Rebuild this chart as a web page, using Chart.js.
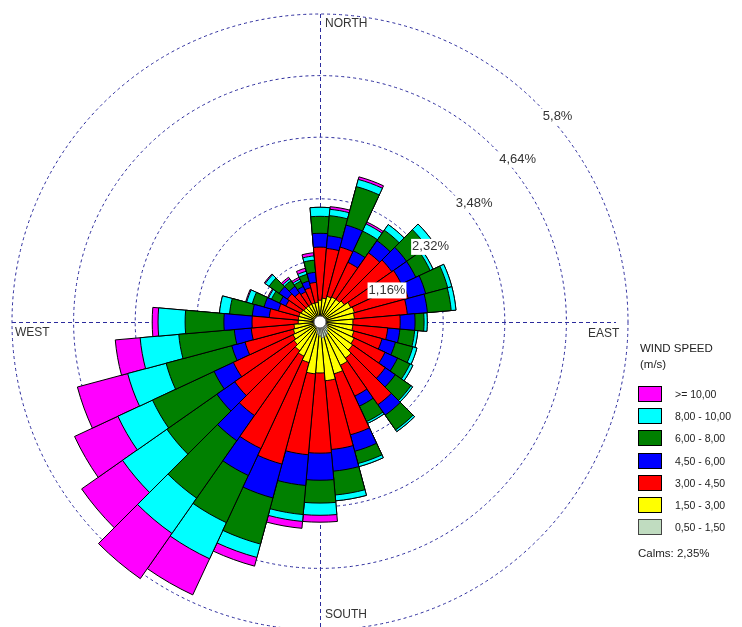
<!DOCTYPE html>
<html>
<head>
<meta charset="utf-8">
<title>Wind rose</title>
<script src="https://cdn.jsdelivr.net/npm/chart.js@4.4.1/dist/chart.umd.min.js"></script>
<style>
html,body{margin:0;padding:0;background:#fff;overflow:hidden;}
#wrap{position:absolute;left:0;top:0;width:742px;height:632px;}
#legend{position:absolute;left:0;top:0;font-family:"Liberation Sans",Arial,sans-serif;color:#222;}
#legend div{position:absolute;white-space:nowrap;}
.ttl{left:640px;font-size:11.5px;line-height:14px;}
.box{left:638px;width:22px;height:14px;border:1px solid #000;}
.lab{left:675px;font-size:10.5px;line-height:12px;}
</style>
</head>
<body>
<div id="wrap"><canvas id="rose"></canvas></div>
<div id="legend"></div>
<script>
// directions (deg, clockwise from north), 10 degree sectors
const directions=[0,10,20,30,40,50,60,70,80,90,100,110,120,130,140,150,160,170,180,190,200,210,220,230,240,250,260,270,280,290,300,310,320,330,340,350];
const speedClasses=['0,50 - 1,50','1,50 - 3,00','3,00 - 4,50','4,50 - 6,00','6,00 - 8,00','8,00 - 10,00','>= 10,00'];
const classColors=['#c0dcc0','#ffff00','#ff0000','#0000ff','#008000','#00ffff','#ff00ff'];

// frequency (%) of each speed class per direction
const f050=[0.09,0.09,0.09,0.09,0.09,0.09,0.09,0.09,0.09,0.09,0.09,0.11,0.15,0.17,0.21,0.26,0.28,0.30,0.26,0.23,0.17,0.13,0.11,0.09,0.09,0.09,0.09,0.09,0.09,0.09,0.09,0.09,0.09,0.09,0.09,0.09];
const f150=[0.32,0.36,0.41,0.43,0.43,0.47,0.55,0.58,0.56,0.53,0.53,0.55,0.56,0.58,0.62,0.64,0.73,0.81,0.70,0.75,0.62,0.58,0.55,0.51,0.47,0.43,0.40,0.32,0.32,0.32,0.30,0.28,0.28,0.28,0.28,0.28];
const f300=[1.00,0.94,0.96,0.72,1.07,1.09,1.05,1.05,1.00,0.89,0.66,0.55,0.64,0.75,1.07,0.64,1.19,1.30,1.51,1.53,1.98,1.92,1.49,1.36,1.24,0.94,0.81,0.87,0.55,0.40,0.32,0.38,0.30,0.26,0.30,0.38];
const f450=[0.26,0.24,0.43,0.24,0.28,0.34,0.30,0.34,0.38,0.28,0.23,0.26,0.26,0.23,0.24,0.21,0.32,0.41,0.51,0.58,0.66,0.56,0.58,0.41,0.40,0.26,0.32,0.53,0.32,0.28,0.13,0.19,0.15,0.11,0.13,0.19];
const f600=[0.32,0.38,0.75,0.41,0.24,0.47,0.30,0.43,0.45,0.17,0.28,0.34,0.26,0.36,0.34,0.32,0.24,0.45,0.43,0.55,0.90,0.98,1.32,1.15,1.28,1.28,1.05,0.73,0.43,0.23,0.17,0.23,0.13,0.11,0.13,0.23];
const f800=[0.17,0.12,0.14,0.15,0.13,0.15,0.06,0.08,0.09,0.06,0.06,0.08,0.06,0.04,0.04,0.04,0.06,0.11,0.23,0.13,0.26,0.75,0.81,1.02,0.72,0.75,0.73,0.51,0.19,0.11,0.06,0.09,0.04,0.04,0.06,0.08];
const f1000=[0,0.05,0.05,0.04,0,0,0,0,0,0,0,0,0,0,0,0,0,0,0.13,0.13,0.17,0.75,1.04,0.94,0.90,0.98,0.47,0.11,0,0.02,0.02,0.02,0.04,0.04,0.06,0.06];

const ringValues=[0,1.16,2.32,3.48,4.64,5.8];
const ringLabels=['','1,16%','2,32%','3,48%','4,64%','5,8%'];
const calms='2,35%';

// stack the classes outwards: dataset k ends at sum of classes 0..k
const freq=[f050,f150,f300,f450,f600,f800,f1000];
let run=directions.map(()=>0);
const stacked=freq.map(arr=>{run=run.map((v,i)=>v+arr[i]);return run.slice();});

const dashBlue='#2b2b9c';

const rosePlugin={
id:'rose',
beforeDatasetsDraw(chart){
let s=chart.scales.r,ctx=chart.ctx,R=s.drawingArea;
ctx.save();
ctx.strokeStyle=dashBlue;ctx.lineWidth=1;ctx.setLineDash([4,3]);
ctx.beginPath();
ctx.moveTo(s.xCenter+0.5,s.yCenter-R);ctx.lineTo(s.xCenter+0.5,chart.height);
ctx.moveTo(s.xCenter-R,s.yCenter+0.5);ctx.lineTo(s.xCenter+R-12,s.yCenter+0.5);
ctx.stroke();
ctx.restore();
},
afterDatasetsDraw(chart){
let s=chart.scales.r,ctx=chart.ctx,R=s.drawingArea,cx=s.xCenter,cy=s.yCenter;
ctx.save();
// calms circle
ctx.beginPath();ctx.arc(cx,cy,6,0,Math.PI*2);
ctx.fillStyle='#fff';ctx.fill();
ctx.strokeStyle='#666';ctx.lineWidth=1;ctx.stroke();
// ring labels along 45 deg
ctx.font='13px "Liberation Sans", Arial, sans-serif';
ctx.textBaseline='middle';ctx.textAlign='left';
ringValues.forEach((v,i)=>{
if(!ringLabels[i])return;
let r=s.getDistanceFromCenterForValue(v);
let x=cx+r*Math.SQRT1_2+5,y=cy-r*Math.SQRT1_2+12;
let w=ctx.measureText(ringLabels[i]).width;
ctx.fillStyle='#fff';ctx.fillRect(x-1,y-8,w+2,16);
ctx.fillStyle='#333';ctx.fillText(ringLabels[i],x,y);
});
// compass
ctx.font='12px "Liberation Sans", Arial, sans-serif';
ctx.fillStyle='#333';
ctx.fillText('NORTH',cx+5,cy-R+10);
ctx.fillText('SOUTH',cx+5,cy+293);
ctx.fillText('WEST',cx-R+3,cy+11);
ctx.fillText('EAST',cx+R-40,cy+12);
ctx.restore();
}
};

new Chart(document.getElementById('rose'),{
type:'polarArea',
data:{
labels:directions.map(d=>d+'°'),
datasets:stacked.map((d,k)=>({
label:speedClasses[k],
data:d,
backgroundColor:classColors[k],
borderColor:k==0?'#555':'#000',
borderWidth:1,
clip:false
}))
},
options:{
responsive:true,maintainAspectRatio:false,animation:false,events:[],
layout:{padding:{left:12,top:14,right:114,bottom:2}},
plugins:{legend:{display:false},tooltip:{enabled:false}},
scales:{r:{
min:0,max:5.8,startAngle:-5,
afterBuildTicks:sc=>{sc.ticks=ringValues.map(v=>({value:v}));},
ticks:{display:false},
pointLabels:{display:false},
angleLines:{display:false},
grid:{circular:true,color:dashBlue,lineWidth:1},
border:{dash:[3,3]}
}}
},
plugins:[rosePlugin]
});

// legend
let lg=document.getElementById('legend');
let html='<div class="ttl" style="top:341px">WIND SPEED</div><div class="ttl" style="top:357px">(m/s)</div>';
for(let k=speedClasses.length-1,row=0;k>=0;k--,row++){
let top=386+row*22.2;
html+=`<div class="box" style="top:${top}px;background:${classColors[k]};${k==0?'border-color:#444':''}"></div>`;
html+=`<div class="lab" style="top:${top+2}px">${speedClasses[k]}</div>`;
}
html+=`<div class="ttl" style="left:638px;top:546px">Calms: ${calms}</div>`;
lg.innerHTML=html;
</script>
</body>
</html>
